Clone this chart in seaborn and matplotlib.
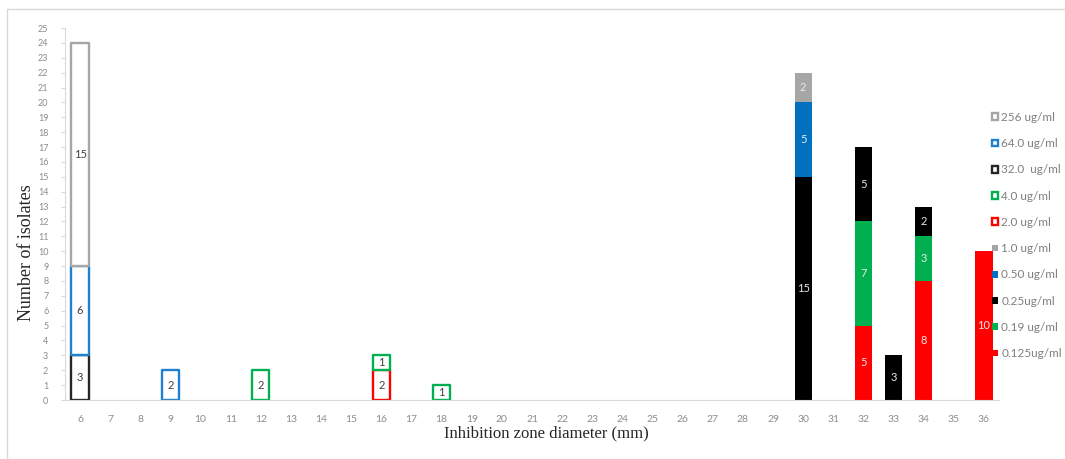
import matplotlib
matplotlib.use("Agg")
import matplotlib.pyplot as plt
from matplotlib.lines import Line2D
import numpy as np
import pandas as pd
import seaborn as sns

# Inhibition zone diameters (mm) shown on the category axis
diameters = list(range(6, 37))

# Isolate counts per MIC level, keyed by zone diameter
mic_0125_x = [32, 34, 36]
mic_0125_n = [5, 8, 10]
mic_019_x = [32, 34]
mic_019_n = [7, 3]
mic_025_x = [30, 32, 33, 34]
mic_025_n = [15, 5, 3, 2]
mic_050_x = [30]
mic_050_n = [5]
mic_1_x = [30]
mic_1_n = [2]
mic_2_x = [16]
mic_2_n = [2]
mic_4_x = [12, 16, 18]
mic_4_n = [2, 1, 1]
mic_32_x = [6]
mic_32_n = [3]
mic_64_x = [6, 9]
mic_64_n = [6, 2]
mic_256_x = [6]
mic_256_n = [15]

# Stacking order, bottom to top: (label, x, counts, colour, filled)
series = [
    ("0.125ug/ml", mic_0125_x, mic_0125_n, "#FF0000", True),
    ("0.19 ug/ml", mic_019_x, mic_019_n, "#00B050", True),
    ("0.25ug/ml", mic_025_x, mic_025_n, "#000000", True),
    ("0.50 ug/ml", mic_050_x, mic_050_n, "#0070C0", True),
    ("1.0 ug/ml", mic_1_x, mic_1_n, "#A6A6A6", True),
    ("2.0 ug/ml", mic_2_x, mic_2_n, "#FF0000", False),
    ("4.0 ug/ml", mic_4_x, mic_4_n, "#00B050", False),
    ("32.0  ug/ml", mic_32_x, mic_32_n, "#262626", False),
    ("64.0 ug/ml", mic_64_x, mic_64_n, "#1F80D0", False),
    ("256 ug/ml", mic_256_x, mic_256_n, "#A6A6A6", False),
]

sns.set_theme(style="white")
plt.rcParams["font.family"] = ["Lato", "DejaVu Sans"]

fig = plt.figure(figsize=(10.65, 4.59), dpi=100)
ax = fig.add_axes([65 / 1065, 1 - 400 / 459, 934 / 1065, 372 / 459])

order = [str(d) for d in diameters]
running = {d: 0 for d in diameters}
handles = {}

for label, xs, ns, colour, filled in series:
    df = pd.DataFrame({"diameter": xs, "count": ns}).sort_values("diameter")
    bottoms = np.array([running[d] for d in df["diameter"]], dtype=float)
    df["diameter"] = df["diameter"].astype(str)
    if filled:
        style = dict(facecolor=colour, edgecolor=colour, linewidth=0)
        txt_col = "#EAEAEA"
    else:
        style = dict(facecolor="white", edgecolor=colour, linewidth=1.7,
                     joinstyle="round")
        txt_col = "#404040"
    sns.barplot(data=df, x="diameter", y="count", order=order, width=0.57,
                errorbar=None, saturation=1, color=colour, ax=ax,
                bottom=bottoms, label=label, legend=False, **style)
    cont = ax.containers[-1]
    ax.bar_label(cont, labels=[str(v) for v in df["count"]], label_type="center",
                 fontsize=8, color=txt_col)
    handles[label] = cont.patches[0]
    for d, n in zip(xs, ns):
        running[d] += n

if ax.get_legend() is not None:
    ax.get_legend().remove()

ax.set_xlim(-0.5, len(diameters) - 0.5)
ax.set_ylim(0, 25)
ax.set_yticks(range(0, 26))
ax.set_yticklabels([str(v) for v in range(0, 26)], fontsize=6.5, color="#8C8C8C")
ax.tick_params(axis="y", which="major", length=3, width=0.6, color="#D0D0D0",
               pad=9, left=True)
ax.tick_params(axis="x", length=0, pad=11, labelsize=7.5, labelcolor="#8C8C8C")
ax.set_xlabel("")
ax.set_ylabel("")
for side in ("top", "right"):
    ax.spines[side].set_visible(False)
for side in ("left", "bottom"):
    ax.spines[side].set_color("#D9D9D9")
    ax.spines[side].set_linewidth(0.8)

fig.text(27 / 1065, 1 - 253 / 459, "Number of isolates", rotation=90,
         ha="center", va="center", fontsize=13, family="Liberation Serif",
         color="#262626")
fig.text(546 / 1065, 1 - 433 / 459, "Inhibition zone diameter (mm)",
         ha="center", va="center", fontsize=12, family="Liberation Serif",
         color="#262626")

legend_order = [s[0] for s in series][::-1]
leg = fig.legend([handles[k] for k in legend_order], legend_order,
                 loc="upper left", bbox_to_anchor=(992 / 1065, 1 - 112 / 459),
                 frameon=False, fontsize=8.5, labelcolor="#7F7F7F",
                 handlelength=0.5, handleheight=0.5, handletextpad=0.3,
                 labelspacing=1.29, borderaxespad=0, borderpad=0)

# Outer chart frame (top and left edges)
fig.add_artist(Line2D([7 / 1065, 1], [1 - 9 / 459, 1 - 9 / 459],
                      transform=fig.transFigure, color="#D9D9D9", lw=1))
fig.add_artist(Line2D([7 / 1065, 7 / 1065], [0, 1 - 9 / 459],
                      transform=fig.transFigure, color="#D9D9D9", lw=1))

fig.savefig("out.png", dpi=100)
